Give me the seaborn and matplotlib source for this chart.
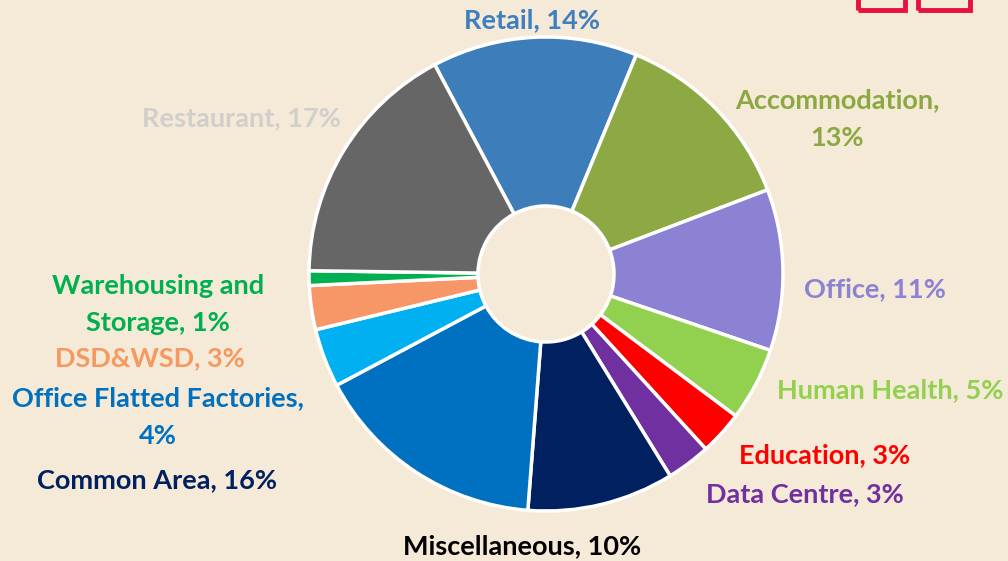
import matplotlib.pyplot as plt
import seaborn as sns
from matplotlib.patches import Rectangle

# Данные диаграммы (по часовой стрелке, начиная с Retail)
categories = ["Retail", "Accommodation", "Office", "Human Health", "Education", "Data Centre",
              "Miscellaneous", "Common Area", "Office Flatted Factories", "DSD&WSD",
              "Warehousing and Storage", "Restaurant"]
shares = [14, 13, 11, 5, 3, 3, 10, 16, 4, 3, 1, 17]
slice_colors = ["#3D7EBA", "#8CA944", "#8B82D3", "#92D050", "#FF0000", "#7030A0",
                "#002060", "#0070C0", "#00B0F0", "#F79767", "#00B050", "#666666"]

label_texts = ["Retail, 14%", "Accommodation,\n13%", "Office, 11%", "Human Health, 5%",
               "Education, 3%", "Data Centre, 3%", "Miscellaneous, 10%", "Common Area, 16%",
               "Office Flatted Factories,\n4%", "DSD&WSD, 3%", "Warehousing and\nStorage, 1%",
               "Restaurant, 17%"]
label_colors = ["#3F7FBF", "#8BA841", "#8B82D3", "#92D050", "#FF0000", "#7030A0",
                "#000000", "#002060", "#0070C0", "#F79860", "#00B050", "#D0CFCB"]
# положения подписей в пикселях (x, y сверху)
label_pos = [(532, 20), (837, 119), (875, 289), (890, 390), (825, 455), (805, 494),
             (522, 546), (157, 480), (158, 417), (150, 358), (158, 304), (241, 118)]

W, H = 1008, 561
BG = "#F5EAD7"

sns.set_theme(style="white")
plt.rcParams['font.family'] = ['Lato', 'DejaVu Sans']

fig = plt.figure(figsize=(W / 100, H / 100), dpi=100, facecolor=BG)
ax = fig.add_axes([0, 0, 1, 1])
ax.set_facecolor(BG)

radius = 237
ax.pie(shares, colors=slice_colors, startangle=118, counterclock=False,
       center=(546, H - 274), radius=radius,
       wedgeprops=dict(width=radius - 68, edgecolor="white", linewidth=2.5))

for text, color, (x, y) in zip(label_texts, label_colors, label_pos):
    ax.text(x, H - y, text, color=color, fontsize=19.5, fontweight="bold",
            ha="center", va="center", linespacing=1.65)

# красный значок в правом верхнем углу
for x0, w in [(858, 47), (918, 52)]:
    ax.add_patch(Rectangle((x0, H - 10), w, 20, fill=False, edgecolor="#E8103C", linewidth=3.5))

ax.set_xlim(0, W)
ax.set_ylim(0, H)
ax.set_aspect("equal")
ax.axis("off")

plt.savefig("out.png", dpi=100, facecolor=BG)
